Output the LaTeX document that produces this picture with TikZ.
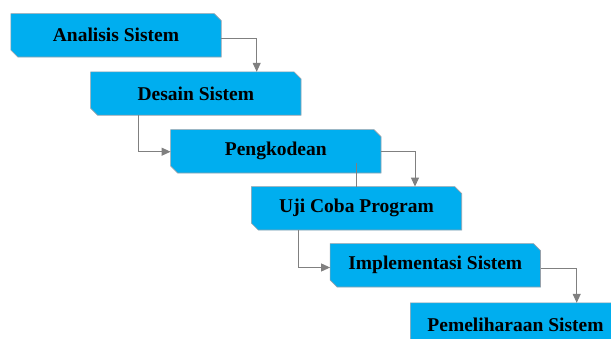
\documentclass[tikz,border=0pt]{standalone}
\usepackage{fontspec}
\setmainfont{Liberation Serif}
\usetikzlibrary{arrows.meta,backgrounds}
\definecolor{boxblue}{RGB}{0,174,239}
\definecolor{linegray}{RGB}{128,128,128}
\definecolor{edgegray}{RGB}{150,160,170}
\tikzset{
  stepbox/.style={rectangle, minimum width=210pt, minimum height=43pt, inner sep=0pt,
    font=\fontsize{19.5}{22}\selectfont\bfseries, text=black},
  boxshape/.style={fill=boxblue, draw=edgegray, line width=0.6pt},
  conn/.style={draw=linegray, line width=1pt, -{Triangle[width=8pt,length=9pt]}},
  plainconn/.style={draw=linegray, line width=1pt}
}
\begin{document}
\begin{tikzpicture}[x=1pt,y=-1pt]
\useasboundingbox (0,0) rectangle (611,338);
\clip (0,0) rectangle (611,338);
\node[stepbox] (b1) at (116,35.3) {Analisis Sistem};
\node[stepbox] (b2) at (195.8,93.5) {Desain Sistem};
\node[stepbox] (b3) at (275.8,151.3) {Pengkodean};
\node[stepbox] (b4) at (356.5,208.3) {Uji Coba Program};
\node[stepbox] (b5) at (435.3,265.3) {Implementasi Sistem};
\node[stepbox] (b6) at (515.5,324.5) {Pemeliharaan Sistem};
\begin{scope}[on background layer]
\foreach \n in {b1,b2,b3,b4,b5,b6}
  \draw[boxshape] (\n.north west) -- ([xshift=-7pt]\n.north east) -- ([yshift=-7pt]\n.north east)
    -- (\n.south east) -- ([xshift=7pt]\n.south west) -- ([yshift=7pt]\n.south west) -- cycle;
\end{scope}
\coordinate (c1) at (256.7,38.3);
\coordinate (c2) at (138.3,151.7);
\coordinate (c3) at (415,151.7);
\coordinate (c4) at (298.3,267.5);
\coordinate (c5) at (576.7,268);
\coordinate (s1) at (356.7,163);
\draw[conn] (b1.east |- c1) -- (c1) -- (c1 |- b2.north);
\draw[conn] (c2 |- b2.south) -- (c2) -- (c2 -| b3.west);
\draw[conn] (b3.east |- c3) -- (c3) -- (c3 |- b4.north);
\draw[plainconn] (s1) -- (s1 |- b4.north);
\draw[conn] (c4 |- b4.south) -- (c4) -- (c4 -| b5.west);
\draw[conn] (b5.east |- c5) -- (c5) -- (c5 |- b6.north);
\end{tikzpicture}
\end{document}
